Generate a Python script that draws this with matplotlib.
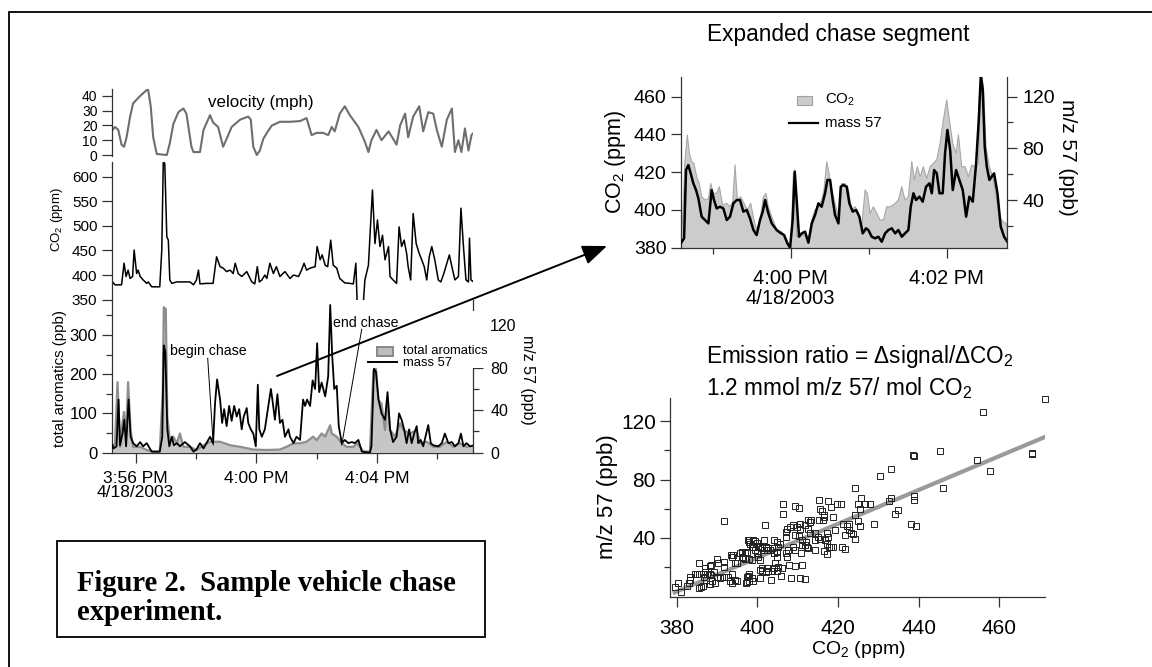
import numpy as np
import matplotlib
matplotlib.use('Agg')
import matplotlib.pyplot as plt
from matplotlib.patches import Rectangle, FancyArrowPatch
from matplotlib.lines import Line2D

plt.rcParams['font.family'] = ['Liberation Sans', 'DejaVu Sans']
plt.rcParams['mathtext.fontset'] = 'custom'
plt.rcParams['mathtext.rm'] = 'Liberation Sans'
plt.rcParams['mathtext.it'] = 'Liberation Sans:italic'
plt.rcParams['mathtext.bf'] = 'Liberation Sans:bold'

nan = np.nan
# ---------------- data (time = seconds after 3:55:00 PM, 4/18/2003) ----------------
vel_t = [14, 19, 25.5, 32, 37, 42, 49, 55, 69, 82,
         85, 90, 95, 102, 122, 128, 135, 145, 155, 161,
         171, 175, 188, 195, 208, 214, 224, 234, 241, 251,
         268, 284, 289, 294, 301, 307, 314, 321, 331, 347,
         367, 387, 400, 410, 420, 433, 443, 450, 456, 466,
         476, 486, 503, 516, 523, 529, 539, 549, 563, 572,
         579, 586, 596, 602, 612, 624, 632, 642, 652, 659,
         669, 679, 689, 695, 702, 708, 715, 722, 728, 735]
vel = [17, 19, 17, 7, 5.6, 12, 26, 35, 40, 44,
       44, 33, 12, 0.7, 0, 8, 21, 29, 31.5, 28,
       5.6, 2, 2, 17, 27, 22, 19, 5.6, 11, 19,
       24, 26, 24, 5.6, 0, 3, 11, 15, 20, 22.5,
       22.5, 23, 25, 13.5, 15, 15, 13.5, 19, 16, 28,
       33, 27, 19, 9, 2, 10, 17, 10, 16, 11,
       7, 20, 28, 12, 26, 33, 16, 29, 28, 17,
       5.6, 24, 31.5, 2, 10, 2, 18, 3, 13.5, 16]

co2_t = [14, 19, 32, 37, 41, 45, 49, 54, 57, 62,
         65, 69, 75, 82, 85, 92, 108, 112, 115, 118,
         122, 125, 128, 132, 142, 168, 175, 181, 185, 188,
         201, 214, 221, 228, 234, 241, 248, 254, 258, 264,
         271, 281, 291, 297, 302, 306, 311, 317, 321, 327,
         334, 340, 347, 357, 367, 374, 384, 390, 395, 400,
         407, 417, 421, 427, 431, 437, 442, 448, 453, 460,
         466, 476, 486, 493, 498, 501, 507, 512, 516, 523,
         531, 536, 541, 546, 551, 556, 563, 566, 572, 579,
         584, 589, 594, 599, 602, 607, 612, 618, 624, 629,
         634, 639, 644, 649, 655, 662, 667, 673, 679, 684,
         689, 695, 702, 707, 712, 717, 722, 724, 727, 732,
         735]
co2 = [386, 380, 380, 424, 397, 410, 393, 397, 451, 403,
       410, 397, 390, 383, 386, 376, 376, 451, 630, 627,
       478, 471, 390, 383, 386, 386, 380, 390, 410, 382,
       383, 383, 437, 417, 414, 407, 410, 403, 424, 403,
       397, 407, 386, 382, 417, 386, 390, 400, 393, 424,
       403, 417, 397, 407, 393, 400, 397, 410, 424, 410,
       414, 417, 458, 431, 441, 420, 417, 471, 420, 414,
       393, 384, 383, 382, 424, 330, nan, 330, 390, 420,
       573, 464, 512, 458, 481, 431, 458, 397, 390, 383,
       498, 458, 471, 444, 417, 390, 525, 464, 444, 431,
       417, 390, 437, 458, 431, 390, 386, 403, 424, 441,
       417, 390, 397, 536, 458, 390, 386, 475, 390, 386,
       420]

aro_t = [14, 19, 24, 29, 34, 37, 41, 45, 50, 55,
         69, 82, 95, 108, 114, 116, 120, 123, 128, 135,
         142, 148, 155, 168, 181, 195, 208, 214, 228, 248,
         268, 294, 321, 347, 360, 374, 387, 400, 413, 420,
         430, 437, 447, 450, 460, 470, 480, 493, 500, 506,
         513, 526, 533, 538, 543, 549, 556, 561, 566, 576,
         586, 592, 606, 619, 626, 639, 652, 665, 679, 692,
         705, 718, 735]
aro = [15, 24, 180, 15, 79, 104, 41, 180, 58, 15,
       15, 7, 3, 3, 159, 371, 367, 92, 32, 41,
       24, 49, 15, 15, 7, 19, 28, 28, 28, 19,
       15, 8, 7, 8, 15, 24, 24, 28, 41, 32,
       49, 41, 70, 49, 41, 24, 15, 15, 24, 15,
       3, 3, 210, 214, 134, 125, 58, 142, 58, 41,
       75, 58, 49, 58, 24, 28, 15, 15, 28, 15,
       24, 15, 19]

m57_t = [14, 16, 22, 26, 29, 34, 37.5, 41, 46, 50,
         55, 62, 69, 75, 82, 92, 108, 113, 116, 119,
         123, 127, 132, 136, 142, 148, 158, 168, 175, 181,
         188, 195, 201, 208, 214, 218, 222, 228, 232, 236,
         241, 246, 251, 256, 261, 266, 271, 275, 281, 284,
         289, 294, 299, 303, 306, 311, 317, 324, 329, 332,
         337, 342, 347, 352, 357, 364, 367, 374, 380, 387,
         393, 397, 401, 407, 412, 417, 421, 425, 430, 437,
         443, 447, 451, 455, 460, 464, 470, 476, 483, 490,
         496, 503, 510, 526, 529, 534, 538, 543, 549, 556,
         561, 566, 572, 579, 584, 589, 594, 599, 604, 609,
         614, 619, 622, 627, 632, 642, 647, 652, 662, 669,
         675, 682, 689, 695, 702, 707, 712, 718, 725, 735]
m57 = [7, 4, 6, 50, 7, 18, 31, 6, 50, 15,
       9, 6, 10, 6, 9, 1, 1, 15, 101, 95,
       22, 6, 15, 7, 9, 6, 10, 6, 1, 3,
       9, 4, 9, 15, 9, 47, 69, 50, 28, 41,
       25, 44, 30, 44, 34, 41, 22, 34, 42, 28,
       22, 18, 6, 64, 22, 15, 22, 44, 60, 50,
       31, 55, 28, 31, 15, 22, 15, 9, 15, 12,
       50, 44, 50, 44, 68, 60, 103, 57, 66, 53,
       72, 139, 91, 60, 63, 25, 9, 12, 9, 10,
       9, 12, 1, 0, 6, 79, 76, 50, 37, 31,
       57, 22, 10, 15, 37, 31, 22, 9, 22, 9,
       18, 25, 9, 12, 6, 26, 9, 7, 6, 9,
       18, 9, 10, 6, 9, 18, 6, 9, 6, 7]

# expanded chase segment
exp_t = [215.4, 216.9, 218.7, 220.5, 222.1, 223.8, 225.6, 227.7, 229.7, 231.5,
         234.1, 236.7, 238.5, 240.5, 243.1, 245.1, 247.7, 250.8, 253.3, 255.4,
         257.2, 259, 261.5, 264.1, 266.7, 269.2, 271.8, 273.8, 276.4, 279,
         281, 282.8, 285.4, 289.2, 293.1, 295.6, 298.2, 300, 302.1, 303.3,
         304.6, 307.2, 310.3, 313.6, 316.2, 318.7, 321.3, 323.8, 325.6, 327.7,
         329.5, 331.5, 334.1, 336.7, 339.2, 341.8, 344.4, 346.9, 349.5, 352,
         354.6, 357.2, 359, 361, 363.6, 366.2, 368.7, 371.3, 373.8, 376.4,
         380.3, 382.8, 385.4, 387.9, 390.5, 393.1, 395.1, 397.4, 399.5, 402,
         404.6, 407.2, 409.7, 412.3, 414.9, 417.4, 420, 422, 424.6, 427.2,
         429, 431.5, 434.1, 436.7, 439.2, 441.8, 444.4, 446.4, 448.2, 450.2,
         452.8, 455.4, 458, 460.5, 463.1, 465.6, 468.7]
exp_co2 = [387.6, 394.7, 426.5, 439.7, 430, 425.6, 424.7, 417.6, 414, 407,
           405.3, 406, 414, 408.8, 408.8, 412.3, 402.6, 403.5, 401.7, 404.4,
           423.8, 405.3, 407, 403.5, 400, 403.5, 394.7, 389.4, 394.7, 407,
           408.8, 401.7, 396.4, 389.4, 388.5, 385.8, 382.3, 380, 419.4, 421.2,
           385.8, 387.6, 386.7, 384, 394.7, 400, 401.7, 405.3, 410.6, 425.6,
           419.4, 410.6, 403.5, 396.4, 414, 414, 410.6, 400, 401.7, 398.2,
           391.1, 410.6, 408.8, 398.2, 401.7, 398.2, 394.7, 394.7, 401.7, 401.7,
           403.5, 405.3, 412.3, 405.3, 407, 425.6, 415.9, 422.9, 417.6, 422.9,
           416.7, 422.9, 424.7, 426.5, 435.3, 447.7, 458.3, 447.7, 435.3, 430,
           439.7, 422.9, 422.9, 417.6, 423.8, 422.9, 424.7, 471.5, 465.3, 433.5,
           422.9, 417.6, 407, 396.4, 393.8, 392.9, 385.8]
exm_t = [215.4, 218, 219.5, 221.3, 223.1, 225.1, 227.2, 229, 231.5, 234.1,
         236.7, 239.2, 241, 243.1, 245.6, 248.2, 250.8, 253.3, 255.9, 258.5,
         261, 263.6, 266.2, 268.7, 271.3, 273.8, 276.4, 278.5, 280.3, 282.8,
         285.4, 289.2, 291.8, 294.9, 297.4, 299.5, 301.5, 303.1, 304.6, 306.4,
         308.5, 311, 313.6, 316.2, 318.7, 321.3, 323.8, 326.4, 328.2, 330.3,
         332.3, 334.1, 336.7, 338.5, 340.5, 343.1, 345.1, 347.7, 350.3, 352.8,
         355.4, 357.9, 359.7, 362.3, 364.9, 367.4, 370, 372.6, 375.1, 377.7,
         380.3, 382.8, 385.4, 387.9, 390.5, 392.3, 394.4, 396.4, 399, 401.5,
         404.1, 406.7, 408.5, 410.3, 412.3, 414.4, 416.9, 418.7, 420.5, 422.6,
         424.6, 427.2, 429.7, 432.3, 434.9, 437.4, 440, 442.6, 444.6, 446.2,
         447.7, 449.2, 450.8, 452.8, 454.6, 456.4, 459, 461.5, 464.1, 467.4,
         468.7]
exm = [6.5, 10.3, 63.2, 67, 60.6, 52.9, 47.7, 41.3, 27.1, 24.5,
       21.9, 47.7, 40, 33.5, 34.8, 33.5, 24.5, 27.1, 37.4, 40,
       40, 31, 32.3, 25.8, 16.8, 12.9, 24.5, 31, 40, 29.7,
       21.9, 16.8, 14.7, 12.9, 6.5, 3.1, 24.5, 61.9, 40, 11.6,
       14.2, 15.5, 7, 21.9, 28.4, 37.4, 34.8, 45.2, 55.5, 55.5,
       40, 28.4, 21.9, 50.3, 51.6, 50.3, 37.4, 31, 32.3, 27.1,
       14.2, 18.1, 16.8, 11.6, 10.3, 11.6, 7.7, 14.2, 16.8, 18.1,
       14.2, 16.8, 11.6, 14.2, 16.8, 34.8, 45.2, 40, 42.6, 38.7,
       50.3, 52.9, 45.2, 63.2, 60.6, 45.2, 45.2, 76.1, 94.2, 78.7,
       47.7, 63.2, 55.5, 47.7, 27.1, 42.6, 38.7, 68.4, 101.9, 136.8,
       125.2, 81.3, 65.8, 55.5, 58.1, 60.6, 45.2, 19.4, 11.6, 6.5,
       3.9]

# scatter: CO2 vs m/z 57
sc_co2 = [471.2, 456, 445.3, 438.5, 438.7, 454.4, 457.7, 468.2, 468.2, 433.1,
          430.4, 424.2, 445.9, 438.9, 438.9, 433.1, 432.5, 434.8, 434, 438.1,
          439.3, 428.9, 425.7, 426.7, 427.9, 425, 425.5, 424.2, 425, 425.5,
          424.3, 423.1, 423.6, 422.8, 422.1, 421.7, 422.6, 421.3, 420.7, 419.7,
          418.8, 418.3, 417.6, 416.4, 416, 415.2, 415.5, 415.3, 416.2, 416.6,
          419.2, 417.2, 417.4, 416.8, 417.2, 417.7, 418.2, 418.7, 416.6, 417.2,
          420.9, 421.6, 414.3, 415.5, 414.3, 414.9, 414.3, 413.1, 412.5, 412.9,
          413.3, 412.5, 411.8, 410.6, 410.6, 409.8, 408.9, 408.1, 407.3, 407.1,
          407.1, 409.2, 410.2, 411, 412.1, 412.2, 412.5, 411.8, 410.7, 411,
          408.9, 407.6, 409.3, 407, 407.3, 407.9, 409.2, 411, 410.6, 411.8,
          408.3, 406.3, 406.3, 409.3, 410.4, 401.9, 404, 404.8, 405.2, 405.6,
          404.8, 404.8, 404.2, 403.6, 403, 402.6, 402.2, 401.5, 401.1, 400.7,
          400.2, 399.8, 399.4, 399, 397.8, 398.2, 399, 399.4, 399.8, 400.2,
          400.7, 397.4, 396.9, 396.1, 395.7, 396.9, 397.8, 398.6, 401.1, 400.7,
          401.1, 402.3, 402.7, 403.6, 404, 404.4, 405.2, 406, 405.8, 404.8,
          402.1, 400.7, 403.3, 398.6, 397.6, 399, 397.8, 397.8, 397.4, 397.2,
          394.5, 393.6, 393.2, 393.6, 392.8, 391.6, 390.7, 389.9, 389.5, 388.7,
          388.3, 389.1, 388.4, 388.1, 387.4, 387, 386.6, 386.8, 387.3, 386.6,
          386, 385.6, 387, 388.1, 388.4, 385.6, 385.6, 385, 384.5, 383.3,
          383.3, 382.9, 382.5, 380.4, 379.6, 381, 389.9, 390.1, 391.6, 391.6,
          393.4, 393.6, 394, 394.5, 395, 396.1, 396.5, 391.6, 394.9, 397.4,
          397.6, 398, 398.6, 401.7, 402, 402.3, 404]
sc_m57 = [135.5, 126.4, 99.7, 96.7, 96.2, 93.7, 86.2, 97.8, 98.3, 87.5,
          82.3, 74.3, 74.3, 68.8, 65.8, 67.4, 65.4, 59.4, 56.7, 49.8,
          48.2, 49.4, 67.4, 62.9, 62.9, 62.9, 59.7, 56, 51.4, 48.2,
          39.5, 43, 42.3, 45.3, 48.2, 41.8, 49.8, 49.8, 63.5, 62.9,
          54.4, 61.3, 65.4, 56, 58.3, 66.3, 60.1, 52.1, 52.1, 54.4,
          45.7, 43.4, 40.7, 38.4, 36.1, 33.4, 33.4, 33.4, 30.9, 28.6,
          33.8, 32.2, 31.5, 39.5, 38.4, 40.7, 43, 43, 46.4, 51,
          52.1, 52.1, 48.7, 49.8, 46.4, 47.5, 48.7, 47.5, 46.4, 44.1,
          40.7, 41.8, 41.1, 38.4, 37.3, 33.8, 32.7, 35, 29.3, 35.4,
          33.8, 31.5, 31.5, 29.3, 27, 21.7, 20.8, 21.3, 12.1, 11.7,
          12.1, 63.1, 56.7, 61.7, 60.6, 49.1, 38.4, 37.3, 33.8, 35.7,
          30.4, 27, 29.3, 32.7, 31.5, 32.7, 33.8, 31.5, 32.7, 33.8,
          34.5, 36.6, 37.7, 38.4, 38.4, 36.1, 33.8, 31.5, 29.3, 27,
          24.7, 30.4, 29.3, 30.4, 29.9, 25.8, 25.8, 25.1, 19.4, 17.8,
          17.1, 19, 17.1, 17.4, 19, 22.4, 20.1, 19.4, 13.7, 17.1,
          16.7, 12.1, 11, 12.1, 13.7, 10.3, 15.5, 10.3, 9.8, 8.7,
          11, 8.7, 10.3, 15.5, 13.3, 13.3, 12.1, 13.3, 8.7, 10.3,
          8, 16.7, 14.4, 15.5, 14.9, 16.7, 15.5, 13.3, 11, 6.9,
          6, 5.3, 19, 20.6, 21.7, 22.9, 15.5, 15.5, 15.1, 12.8,
          11, 8.7, 7.1, 8.7, 6, 3, 25.8, 22.4, 20.1, 23.5,
          28.1, 27, 28.1, 22.9, 22.9, 27, 26.3, 51.4, 10.3, 13.3,
          38.4, 37.3, 33.8, 38.4, 33.8, 32, 29.3]
fit_co2 = [379.0, 471.5]
fit_m57 = [2.0, 109.5]

left_ticks = [60, 300, 540]
left_ticklabels = ['3:56 PM\n4/18/2003', '4:00 PM', '4:04 PM']
left_minor = [180, 420, 660]
exp_ticks = [300, 420]
exp_ticklabels = ['4:00 PM\n4/18/2003', '4:02 PM']
exp_minor = [240, 360]

# ---------------- layout helpers ----------------
W, H = 1152, 667
fig = plt.figure(figsize=(W / 100, H / 100), dpi=100)
fig.patch.set_facecolor('white')


def fbox(l, t, r, b):
    return [l / W, 1 - b / H, (r - l) / W, (b - t) / H]


def fx(x):
    return x / W


def fy(y):
    return 1 - y / H


SPC = '#333333'


def style(ax, sides, lsize):
    for s in ['left', 'right', 'top', 'bottom']:
        ax.spines[s].set_visible(s in sides)
        ax.spines[s].set_color(SPC)
        ax.spines[s].set_linewidth(0.9)
    ax.patch.set_visible(False)
    ax.tick_params(which='both', direction='out', color=SPC, width=0.9, labelsize=lsize)
    ax.tick_params(which='major', length=7.2)
    ax.tick_params(which='minor', length=4.3)


XL = (13.6, 731.6)

# velocity
ax_vel = fig.add_axes(fbox(112.3, 89, 473.3, 155.9))
ax_vel.plot(vel_t, vel, color='#6e6e6e', lw=1.5)
ax_vel.set_xlim(XL)
ax_vel.set_ylim(-0.6, 44.7)
ax_vel.set_yticks([0, 10, 20, 30, 40])
style(ax_vel, ['left'], 10)
ax_vel.tick_params(axis='x', bottom=False, labelbottom=False)
ax_vel.tick_params(axis='y', pad=3.5)
fig.text(fx(208), fy(103), 'velocity (mph)', ha='left', va='center', fontsize=12.2)

# CO2
ax_co2 = fig.add_axes(fbox(112.3, 162, 473.3, 299.6))
ax_co2.plot(co2_t, co2, color='black', lw=1.1)
ax_co2.set_xlim(XL)
ax_co2.set_ylim(350, 630)
ax_co2.set_yticks([350, 400, 450, 500, 550, 600])
style(ax_co2, ['left'], 11)
ax_co2.tick_params(axis='x', bottom=False, labelbottom=False)
ax_co2.tick_params(axis='y', pad=3.5)
fig.text(fx(57), fy(220), 'CO$_2$ (ppm)', rotation=90, ha='center', va='center', fontsize=9.5)

# aromatics + mass 57
ax_aro = fig.add_axes(fbox(112.3, 300, 473.3, 452.7))
ax_aro.fill_between(aro_t, 0, aro, facecolor='#c6c6c6', lw=0)
ax_aro.plot(aro_t, aro, color='#8e8e8e', lw=1.6)
ax_aro.set_xlim(XL)
ax_aro.set_ylim(0, 389.5)
ax_aro.set_yticks([0, 100, 200, 300])
ax_aro.set_yticks([50, 150, 250, 350], minor=True)
ax_aro.set_xticks(left_ticks)
ax_aro.set_xticklabels(left_ticklabels, linespacing=0.95)
ax_aro.set_xticks(left_minor, minor=True)
style(ax_aro, ['left', 'bottom'], 12)
ax_aro.tick_params(axis='x', labelsize=12.5, pad=6)
ax_aro.tick_params(axis='y', pad=3.5)
fig.text(fx(60), fy(378), 'total aromatics (ppb)', rotation=90, ha='center', va='center', fontsize=10.8)

ax_m = ax_aro.twinx()
ax_m.plot(m57_t, m57, color='black', lw=1.3)
ax_m.set_xlim(XL)
ax_m.set_ylim(0, 143.7)
ax_m.set_yticks([0, 40, 80, 120])
ax_m.set_yticks([20, 60, 100], minor=True)
style(ax_m, ['right'], 11.5)
ax_m.tick_params(axis='y', pad=5)
fig.text(fx(527), fy(380), 'm/z 57 (ppb)', rotation=270, ha='center', va='center', fontsize=11.5)

# white cover (legend background hiding part of right spine)
fig.add_artist(Rectangle((fx(468), fy(368)), 18 / W, 57 / H, transform=fig.transFigure,
                         facecolor='white', edgecolor='none', zorder=5))
# legend of left panel
fig.add_artist(Rectangle((fx(377), fy(356)), 16 / W, 9 / H, transform=fig.transFigure,
                         facecolor='#bdbdbd', edgecolor='#888888', lw=1.4, zorder=6))
fig.add_artist(Line2D([fx(368), fx(397)], [fy(362), fy(362)], transform=fig.transFigure,
                      color='black', lw=1.4, zorder=6))
fig.text(fx(403), fy(351), 'total aromatics', ha='left', va='center', fontsize=9.4, zorder=6)
fig.text(fx(403), fy(363), 'mass 57', ha='left', va='center', fontsize=9.4, zorder=6)

# annotations
fig.text(fx(170), fy(351), 'begin chase', ha='left', va='center', fontsize=10.2, zorder=6)
fig.add_artist(Line2D([fx(207.7), fx(213.3)], [fy(358.3), fy(445)], transform=fig.transFigure,
                      color='black', lw=0.7, zorder=6))
fig.text(fx(333.3), fy(323.5), 'end chase', ha='left', va='center', fontsize=10.2, zorder=6)
fig.add_artist(Line2D([fx(361.7), fx(341.7)], [fy(329.3), fy(445)], transform=fig.transFigure,
                      color='black', lw=0.7, zorder=6))

# ---------------- expanded chase segment ----------------
ax_e = fig.add_axes(fbox(680.7, 76.7, 1006.7, 247.7))
ax_e.fill_between(exp_t, 370, exp_co2, facecolor='#cccccc', lw=0)
ax_e.plot(exp_t, exp_co2, color='#a8a8a8', lw=0.8)
ax_e.set_xlim(215.4, 466.1)
ax_e.set_ylim(380, 470.6)
ax_e.set_yticks([380, 400, 420, 440, 460])
ax_e.set_xticks(exp_ticks)
ax_e.set_xticklabels(exp_ticklabels, linespacing=1.05)
ax_e.set_xticks(exp_minor, minor=True)
style(ax_e, ['left', 'bottom'], 14)
ax_e.tick_params(axis='x', labelsize=14.5, pad=8)
ax_e.tick_params(axis='y', pad=3)
ax_e2 = ax_e.twinx()
ax_e2.plot(exm_t, exm, color='black', lw=1.8)
ax_e2.set_xlim(215.4, 466.1)
ax_e2.set_ylim(3.1, 135.4)
ax_e2.set_yticks([40, 80, 120])
ax_e2.set_yticks([20, 60, 100], minor=True)
style(ax_e2, ['right'], 14)
ax_e2.tick_params(axis='y', pad=4)
fig.text(fx(838), fy(35), 'Expanded chase segment', ha='center', va='center', fontsize=16.3)
fig.text(fx(615), fy(162), 'CO$_2$ (ppm)', rotation=90, ha='center', va='center', fontsize=15.5)
fig.text(fx(1068), fy(157), 'm/z 57 (ppb)', rotation=270, ha='center', va='center', fontsize=15)
# legend
fig.add_artist(Rectangle((fx(797), fy(105)), 15 / W, 9 / H, transform=fig.transFigure,
                         facecolor='#cccccc', edgecolor='#a0a0a0', lw=0.8, zorder=6))
fig.add_artist(Line2D([fx(789), fx(818)], [fy(123.3), fy(123.3)], transform=fig.transFigure,
                      color='black', lw=1.6, zorder=6))
fig.text(fx(825), fy(100), 'CO$_2$', ha='left', va='center', fontsize=10.8, zorder=6)
fig.text(fx(825), fy(123), 'mass 57', ha='left', va='center', fontsize=10.8, zorder=6)

# ---------------- scatter ----------------
ax_s = fig.add_axes(fbox(670, 398, 1045, 596.7))
ax_s.plot(fit_co2, fit_m57, color='#9a9a9a', lw=3.0, solid_capstyle='butt', zorder=2)
ax_s.plot(sc_co2, sc_m57, linestyle='none', marker='s', ms=4, mfc='none', mec='#222222',
          mew=0.7, clip_on=False, zorder=3)
ax_s.set_xlim(378.3, 471.3)
ax_s.set_ylim(-0.4, 136)
ax_s.set_xticks([380, 400, 420, 440, 460])
ax_s.set_yticks([40, 80, 120])
ax_s.set_yticks([20, 60, 100], minor=True)
style(ax_s, ['left', 'bottom'], 15)
ax_s.tick_params(axis='x', pad=8.5)
ax_s.tick_params(axis='y', pad=3)
fig.text(fx(706), fy(357), 'Emission ratio = \u0394signal/\u0394CO$_2$', ha='left', va='center', fontsize=16.3)
fig.text(fx(706), fy(388), '1.2 mmol m/z 57/ mol CO$_2$', ha='left', va='center', fontsize=16.3)
fig.text(fx(858), fy(650), 'CO$_2$ (ppm)', ha='center', va='center', fontsize=14)
fig.text(fx(608), fy(497), 'm/z 57 (ppb)', rotation=90, ha='center', va='center', fontsize=16)

# ---------------- arrow, frames, caption ----------------
fig.add_artist(FancyArrowPatch((fx(277), fy(376)), (fx(607), fy(246)), transform=fig.transFigure,
                               arrowstyle='-|>,head_length=0.75,head_width=0.3', mutation_scale=20,
                               lw=1.4, color='black', shrinkA=0, shrinkB=0, zorder=7))
fig.add_artist(Rectangle((fx(9), -0.05), 1.1, fy(12) + 0.05, transform=fig.transFigure,
                         fill=False, edgecolor='black', lw=1.3, zorder=8))
fig.add_artist(Rectangle((fx(57), fy(637)), (485 - 57) / W, (637 - 541) / H, transform=fig.transFigure,
                         fill=False, edgecolor='black', lw=1.3, zorder=8))
fig.text(fx(77), fy(590.7), 'Figure 2.  Sample vehicle chase', ha='left', va='baseline',
         fontsize=20.6, fontweight='bold', family=['Liberation Serif', 'DejaVu Serif'])
fig.text(fx(77), fy(619.5), 'experiment.', ha='left', va='baseline',
         fontsize=20.6, fontweight='bold', family=['Liberation Serif', 'DejaVu Serif'])

fig.savefig('out.png', dpi=100)
